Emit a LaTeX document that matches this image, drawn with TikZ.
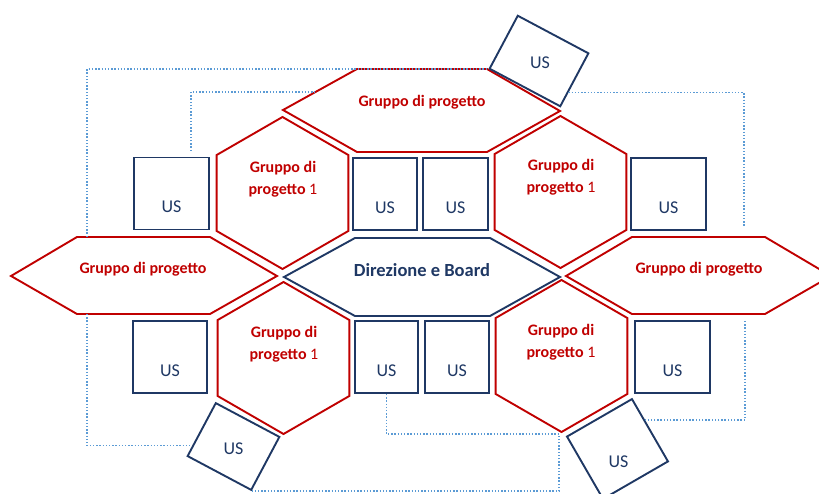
\documentclass[tikz,border=0pt]{standalone}
\usepackage{fontspec}
\setmainfont{Carlito}
\usetikzlibrary{shapes.geometric,calc}
\definecolor{grpred}{HTML}{C00000}
\definecolor{usblue}{HTML}{1F3864}
\definecolor{linkblue}{HTML}{5B9BD5}

\begin{document}
\begin{tikzpicture}[x=1pt,y=-1pt,
    grp/.style={draw=grpred,line width=1.9pt},
    board/.style={draw=usblue,line width=1.9pt},
    hexv/.style={grp,regular polygon,regular polygon sides=6,rotate=30,
        minimum size=152pt,inner sep=0pt},
    usbox/.style={draw=usblue,line width=1.9pt,inner sep=0pt,
        minimum width=#1,minimum height=72pt},
    usbox/.default=75pt,
    ustext/.style={text=usblue,font=\fontsize{18}{20}\selectfont,inner sep=0pt},
    grptext/.style={text=grpred,font=\fontsize{16}{22}\selectfont\bfseries,inner sep=0pt},
    grpone/.style={text=grpred,font=\fontsize{16}{22}\selectfont,align=center,inner sep=0pt},
    link/.style={draw=linkblue,line width=1.4pt,dash pattern=on 1.4pt off 1.8pt}]
  \clip (0,0) rectangle (819,494);

  % free ends of the dotted links
  \coordinate (lnkA) at (87,237);
  \coordinate (lnkB) at (191,151);
  \coordinate (lnkC) at (315,92);
  \coordinate (lnkD) at (744,227);
  \coordinate (lnkE) at (87,314);
  \coordinate (lnkF) at (745,321);
  \coordinate (lnkG) at (559,434);

  % horizontal hexagons
  \draw[grp] (283,110) -- (357,69) -- (487,69) -- (560,111) -- (487,152) -- (357,152) -- cycle;
  \draw[grp] (11,276) -- (77,237) -- (210,237) -- (277,276) -- (210,314) -- (77,314) -- cycle;
  \draw[grp] (566,276) -- (632,237) -- (765,237) -- (831,276) -- (765,314) -- (632,314) -- cycle;
  \draw[board] (284,277) -- (355,238) -- (490,238) -- (560,277) -- (490,316) -- (355,316) -- cycle;

  \node[grptext] (gTop) at (422,102) {Gruppo di progetto};
  \node[grptext] (gLeft) at (143,269.5) {Gruppo di progetto};
  \node[grptext] (gRight) at (699,269.5) {Gruppo di progetto};
  \node[text=usblue,font=\fontsize{18.5}{20}\selectfont\bfseries,inner sep=0pt] (board) at (422,270) {Direzione e Board};

  % vertical hexagons
  \node[hexv] (hTL) at (282.5,193) {};
  \node[hexv] (hTR) at (560.5,192) {};
  \node[hexv] (hBL) at (283.5,358) {};
  \node[hexv] (hBR) at (561.5,356) {};

  \node[grpone] (pTL) at (283,179.5) {\textbf{Gruppo di}\\\textbf{progetto} 1};
  \node[grpone] (pTR) at (561,177.5) {\textbf{Gruppo di}\\\textbf{progetto} 1};
  \node[grpone] (pBL) at (284,344) {\textbf{Gruppo di}\\\textbf{progetto} 1};
  \node[grpone] (pBR) at (561,342.5) {\textbf{Gruppo di}\\\textbf{progetto} 1};

  % US boxes
  \node[usbox] (uTL) at (171.5,193.5) {};
  \node[usbox=64pt] (uT2) at (385,194) {};
  \node[usbox=65pt] (uT3) at (455.5,194) {};
  \node[usbox] (uTR) at (668.5,194) {};
  \node[usbox=74pt] (uBL) at (170,357) {};
  \node[usbox=63pt] (uB2) at (386.5,357) {};
  \node[usbox=64pt] (uB3) at (457,357) {};
  \node[usbox] (uBR) at (672.5,357) {};
  \foreach \b in {uTL,uT2,uT3,uTR,uBL,uB2,uB3,uBR}
    \node[ustext] (s\b) at ([yshift=-13.5pt]\b.center) {US};

  \node[usbox=80pt,minimum height=60pt,rotate=-28] (rTop) at (539,61) {};
  \node[usbox=72pt,minimum height=60pt,rotate=-28] (rLeft) at (233.5,446.5) {};
  \node[usbox=75pt,rotate=30] (rRight) at (617.5,449) {};
  \node[ustext] (sTop) at (540,63) {US};
  \node[ustext] (sLeft) at (233.5,449) {US};
  \node[ustext] (sRight) at (618.5,462) {US};

  % dotted links
  \draw[link] (lnkA) |- (rTop.south west);
  \draw[link] (lnkB) |- (lnkC);
  \draw[link] ($(rTop.south east)!0.27!(rTop.north east)$) -| (lnkD);
  \draw[link] (lnkE) |- ($(rLeft.south west)!0.2!(rLeft.north west)$);
  \draw[link] (uB2.south) |- (lnkG);
  \draw[link] (rLeft.south east) -| (lnkG);
  \draw[link] (lnkF) |- ($(rRight.north east)!0.35!(rRight.south east)$);
\end{tikzpicture}
\end{document}
